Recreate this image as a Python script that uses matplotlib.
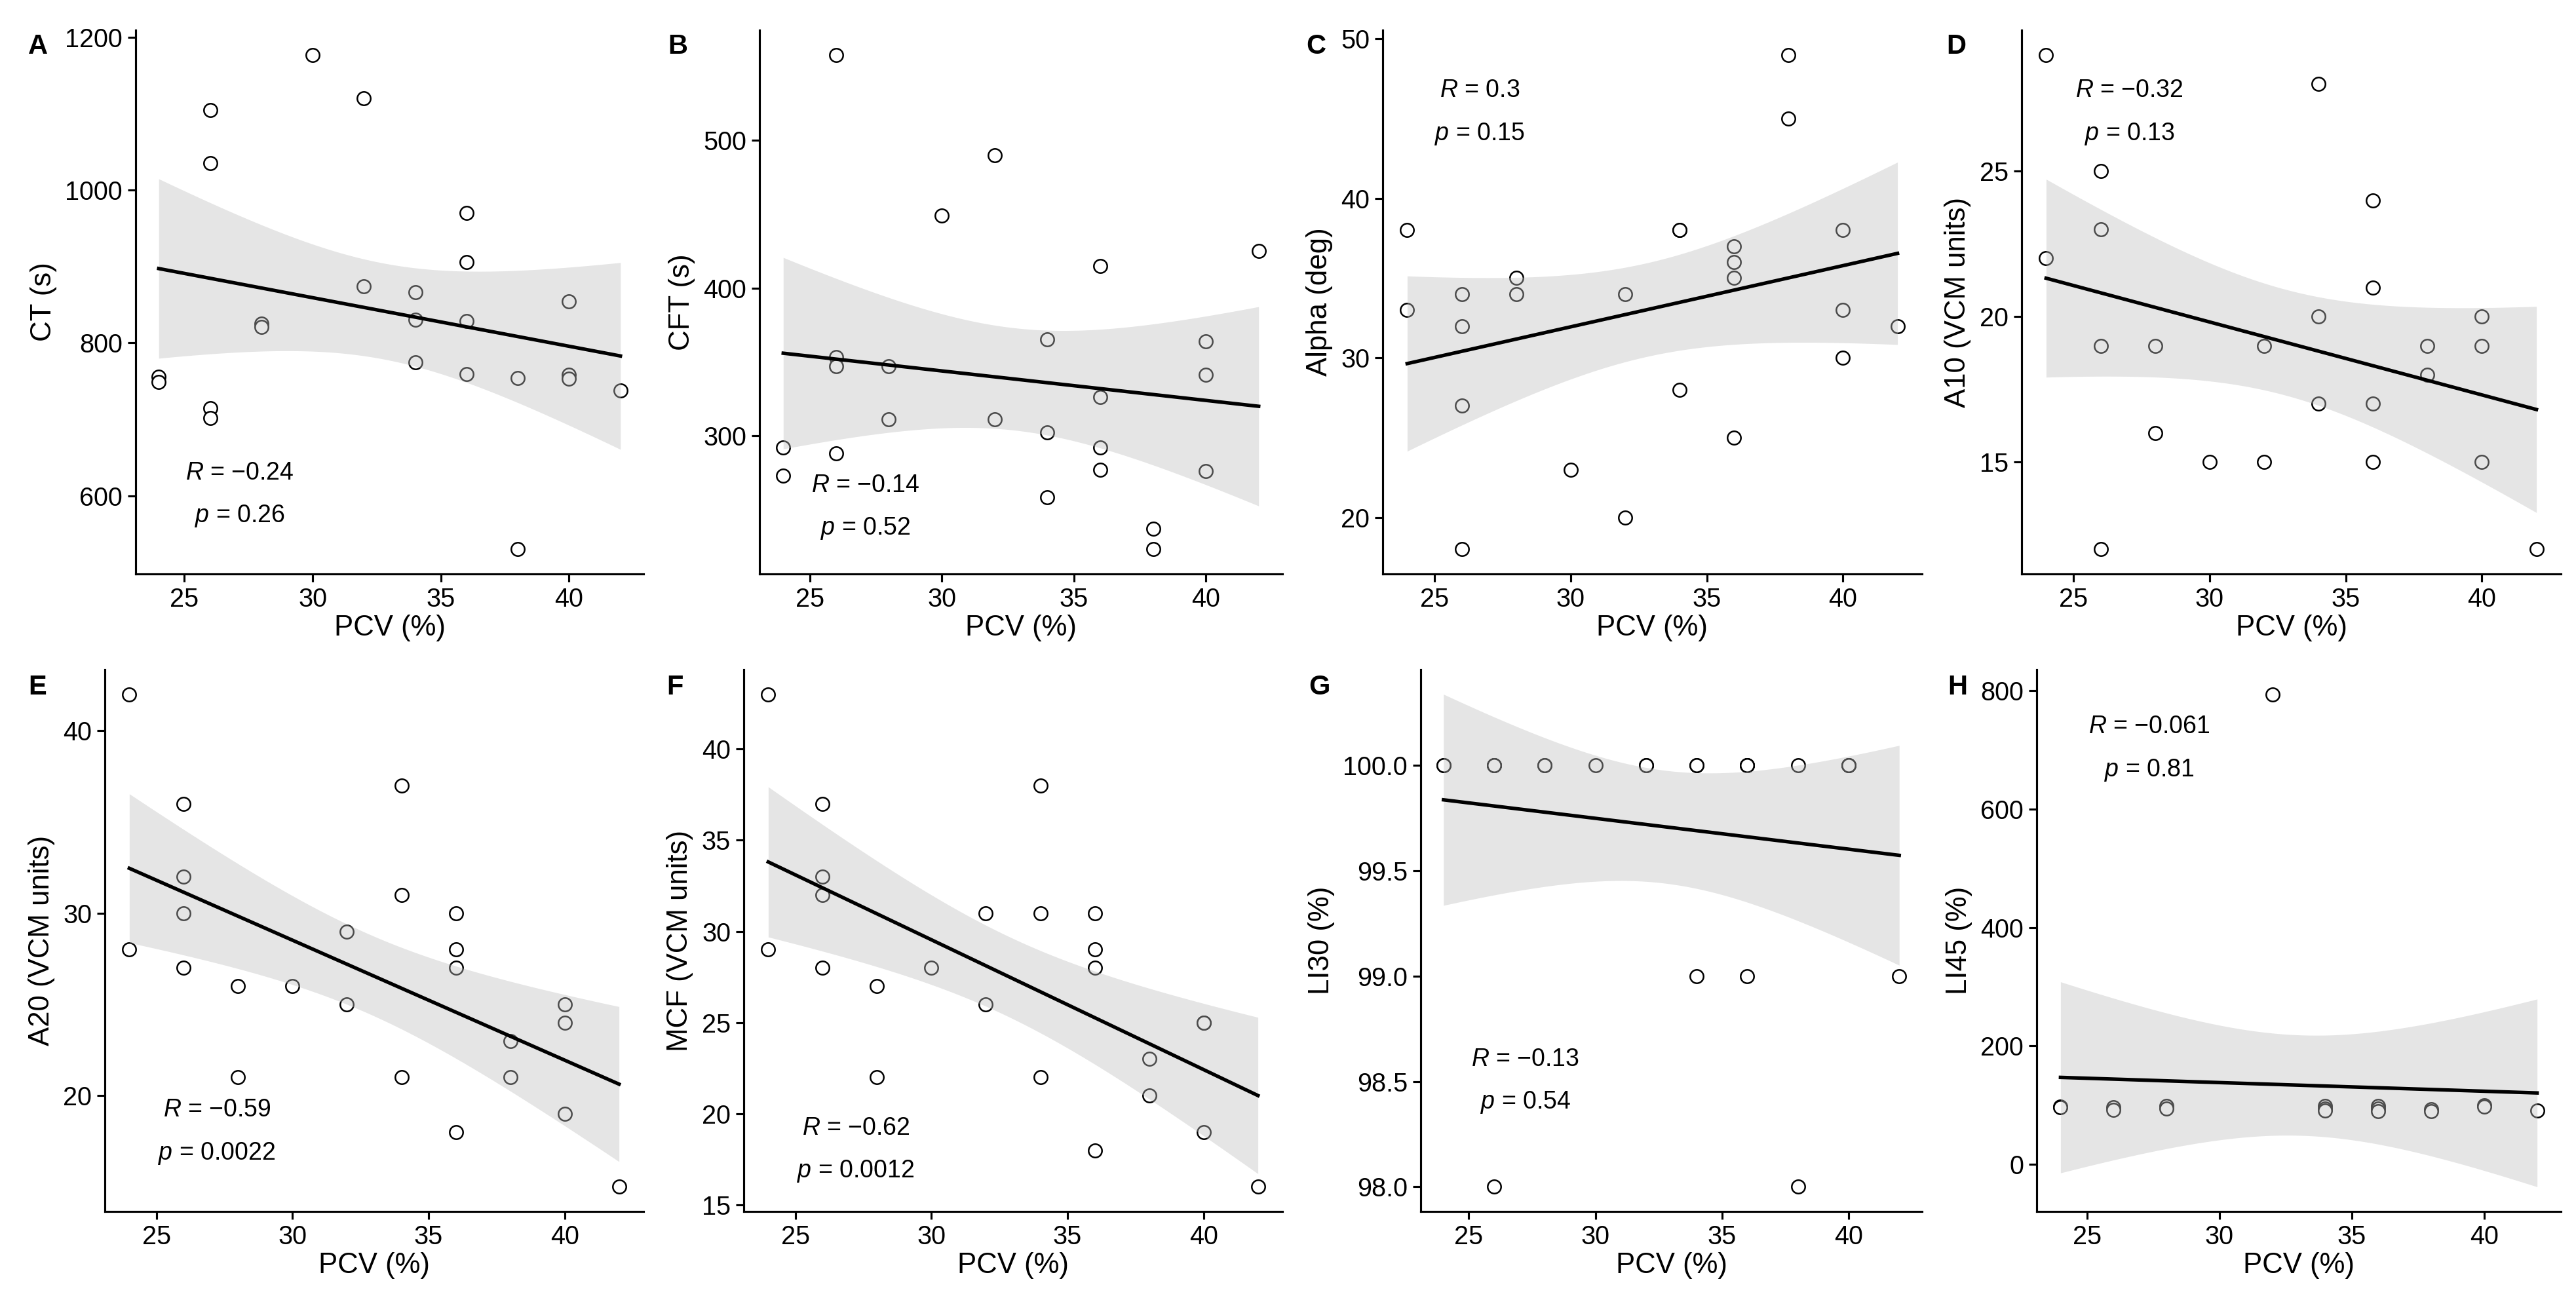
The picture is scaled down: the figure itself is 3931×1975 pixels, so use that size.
import math
import numpy as np
import matplotlib
matplotlib.use("Agg")
import matplotlib.pyplot as plt
from matplotlib.ticker import MultipleLocator, FormatStrFormatter

plt.rcParams['font.family'] = ['Liberation Sans', 'DejaVu Sans']
plt.rcParams['mathtext.fontset'] = 'custom'
plt.rcParams['mathtext.rm'] = 'Liberation Sans'
plt.rcParams['mathtext.it'] = 'Liberation Sans:italic'

# PCV (%) shared by panels A-G (n = 24)
pcv = [24, 24, 26, 26, 26, 26, 28, 28, 30, 32, 32, 34, 34, 34,
       36, 36, 36, 36, 38, 38, 40, 40, 40, 42]

ct = [756, 749, 1105, 1035, 715, 702, 825, 821, 1177, 1120, 874, 866, 830, 775,
      970, 906, 829, 759, 754, 530, 854, 758, 753, 738]
cft = [292, 273, 558, 353, 347, 288, 347, 311, 449, 490, 311, 365, 302, 258,
       415, 326, 292, 277, 237, 223, 364, 341, 276, 425]
alpha = [38, 33, 34, 32, 27, 18, 35, 34, 23, 34, 20, 38, 38, 28,
         37, 36, 35, 25, 49, 45, 38, 33, 30, 32]
a10 = [29, 22, 25, 23, 19, 12, 19, 16, 15, 19, 15, 28, 20, 17,
       24, 21, 17, 15, 19, 18, 20, 19, 15, 12]
a20 = [42, 28, 36, 32, 30, 27, 26, 21, 26, 29, 25, 37, 31, 21,
       30, 28, 27, 18, 23, 21, 25, 24, 19, 15]
mcf = [43, 29, 37, 33, 32, 28, 27, 22, 28, 31, 26, 38, 31, 22,
       31, 29, 28, 18, 23, 21, 25, 25, 19, 16]
li30 = [100, 100, 100, 100, 100, 98, 100, 100, 100, 100, 100, 100, 100, 99,
        100, 100, 100, 99, 100, 98, 100, 100, 100, 99]

# LI45 has fewer observations (n = 18)
pcv_li45 = [24, 24, 26, 26, 28, 28, 32, 34, 34, 34, 36, 36, 36, 38, 38, 40, 40, 42]
li45 = [97, 96, 96, 92, 98, 94, 794, 98, 94, 91, 98, 94, 90, 93, 90, 100, 97, 91]

r_labels = ["\u22120.24", "\u22120.14", "0.3", "\u22120.32",
            "\u22120.59", "\u22120.62", "\u22120.13", "\u22120.061"]
p_labels = ["0.26", "0.52", "0.15", "0.13", "0.0022", "0.0012", "0.54", "0.81"]
y_titles = ["CT (s)", "CFT (s)", "Alpha (deg)", "A10 (VCM units)",
            "A20 (VCM units)", "MCF (VCM units)", "LI30 (%)", "LI45 (%)"]
letters = ["A", "B", "C", "D", "E", "F", "G", "H"]

panels = [
    (pcv, ct, 200, None),
    (pcv, cft, 100, None),
    (pcv, alpha, 10, None),
    (pcv, a10, 5, None),
    (pcv, a20, 10, None),
    (pcv, mcf, 5, None),
    (pcv, li30, 0.5, "%.1f"),
    (pcv_li45, li45, 200, None),
]

# axes boxes in pixels (left, right, top, bottom)
boxes = [(207, 982, 46, 876), (1159, 1957, 46, 876), (2110, 2933, 46, 876), (3085, 3908, 46, 876),
         (160, 982, 1022, 1849), (1135, 1957, 1022, 1849), (2168, 2933, 1022, 1849), (3108, 3908, 1022, 1849)]
# label positions in axes fraction: x centre, y of R line, y of p line
label_pos = [(0.205, 0.186, 0.107), (0.203, 0.163, 0.084), (0.180, 0.889, 0.809), (0.200, 0.889, 0.809),
             (0.208, 0.188, 0.107), (0.208, 0.153, 0.074), (0.209, 0.281, 0.201), (0.215, 0.895, 0.814)]
letter_x = [43, 1019, 1993, 2970, 43, 1017, 1997, 2972]


def t_quantile(p, df):
    t = np.linspace(0, 10, 20001)
    c = math.gamma((df + 1) / 2) / (math.sqrt(df * math.pi) * math.gamma(df / 2))
    pdf = c * (1 + t ** 2 / df) ** (-(df + 1) / 2)
    cdf = 0.5 + np.concatenate([[0], np.cumsum((pdf[1:] + pdf[:-1]) / 2 * np.diff(t))])
    return float(np.interp(p, cdf, t))


W, H = 3931, 1975
fig = plt.figure(figsize=(W / 300, H / 300), dpi=300)

for i, (xs, ys, step, fmt) in enumerate(panels):
    x = np.array(xs, dtype=float)
    y = np.array(ys, dtype=float)
    l, r, t, b = boxes[i]
    ax = fig.add_axes([l / W, 1 - b / H, (r - l) / W, (b - t) / H])

    n = len(x)
    xbar = x.mean()
    sxx = ((x - xbar) ** 2).sum()
    slope = ((x - xbar) * (y - y.mean())).sum() / sxx
    icpt = y.mean() - slope * xbar
    s = math.sqrt(((y - icpt - slope * x) ** 2).sum() / (n - 2))
    xg = np.linspace(x.min(), x.max(), 80)
    fit = icpt + slope * xg
    se = s * np.sqrt(1 / n + (xg - xbar) ** 2 / sxx)
    tq = t_quantile(0.975, n - 2)
    lo, hi = fit - tq * se, fit + tq * se

    ax.scatter(x, y, s=24, facecolors='white', edgecolors='black', linewidths=0.6, zorder=2)
    ax.fill_between(xg, lo, hi, color='#BEBEBE', alpha=0.4, linewidth=0, zorder=3)
    ax.plot(xg, fit, color='black', lw=1.3, zorder=4)

    xr = x.max() - x.min()
    ax.set_xlim(x.min() - 0.05 * xr, x.max() + 0.05 * xr)
    ymin, ymax = min(y.min(), lo.min()), max(y.max(), hi.max())
    yr = ymax - ymin
    ax.set_ylim(ymin - 0.05 * yr, ymax + 0.05 * yr)

    ax.xaxis.set_major_locator(MultipleLocator(5))
    ax.yaxis.set_major_locator(MultipleLocator(step))
    if fmt:
        ax.yaxis.set_major_formatter(FormatStrFormatter(fmt))
    for side in ['top', 'right']:
        ax.spines[side].set_visible(False)
    for side in ['left', 'bottom']:
        ax.spines[side].set_linewidth(0.75)
    ax.tick_params(length=2.8, width=0.75, labelsize=9.5, colors='black', pad=2)
    ax.set_xlabel("PCV (%)", fontsize=10.5, labelpad=1)
    ax.set_ylabel(y_titles[i], fontsize=10.5, labelpad=3)

    lx, ry, py = label_pos[i]
    ax.text(lx, ry, r"$\mathit{R}$ = " + r_labels[i], transform=ax.transAxes,
            ha='center', va='center', fontsize=9)
    ax.text(lx, py, r"$\mathit{p}$ = " + p_labels[i], transform=ax.transAxes,
            ha='center', va='center', fontsize=9)

    top = 51 if i < 4 else 1029
    fig.text(letter_x[i] / W, 1 - top / H, letters[i], ha='left', va='top',
             fontsize=10, fontweight='bold')

fig.savefig("out.png", dpi=300, facecolor='white')
